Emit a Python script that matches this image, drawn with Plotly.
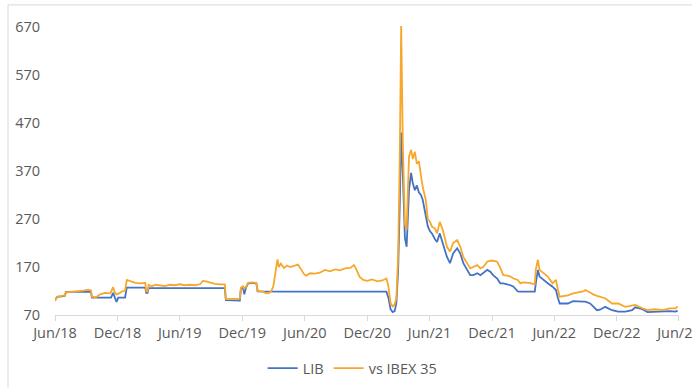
import plotly.graph_objects as go

dates = [
    "2018-06-01", "2018-06-07", "2018-06-21", "2018-06-30", "2018-07-03", "2018-07-20",
    "2018-08-07", "2018-08-24", "2018-09-06", "2018-09-14", "2018-09-17", "2018-09-29",
    "2018-10-11", "2018-10-25", "2018-11-09", "2018-11-12", "2018-11-18", "2018-11-23",
    "2018-11-28", "2018-12-03", "2018-12-14", "2018-12-23", "2018-12-28", "2019-01-07",
    "2019-01-22", "2019-02-06", "2019-02-20", "2019-02-23", "2019-02-27", "2019-03-02",
    "2019-03-11", "2019-03-23", "2019-04-04", "2019-04-18", "2019-05-03", "2019-05-17",
    "2019-06-01", "2019-06-16", "2019-06-30", "2019-07-15", "2019-07-30", "2019-08-08",
    "2019-08-17", "2019-08-29", "2019-09-12", "2019-09-27", "2019-10-11", "2019-10-14",
    "2019-11-01", "2019-11-13", "2019-11-24", "2019-11-27", "2019-12-03", "2019-12-07",
    "2019-12-12", "2019-12-18", "2019-12-30", "2020-01-11", "2020-01-15", "2020-01-29",
    "2020-02-09", "2020-02-18", "2020-02-24", "2020-03-01", "2020-03-06", "2020-03-10",
    "2020-03-13", "2020-03-17", "2020-03-23", "2020-04-01", "2020-04-10", "2020-04-19",
    "2020-04-30", "2020-05-12", "2020-05-21", "2020-05-30", "2020-06-05", "2020-06-17",
    "2020-07-01", "2020-07-15", "2020-07-30", "2020-08-14", "2020-08-28", "2020-09-12",
    "2020-09-27", "2020-10-12", "2020-10-23", "2020-10-30", "2020-11-08", "2020-11-19",
    "2020-12-01", "2020-12-15", "2020-12-30", "2021-01-14", "2021-01-26", "2021-02-01",
    "2021-02-07", "2021-02-13", "2021-02-19", "2021-02-24", "2021-03-01", "2021-03-06",
    "2021-03-10", "2021-03-15", "2021-03-21", "2021-03-26", "2021-04-02", "2021-04-08",
    "2021-04-13", "2021-04-19", "2021-04-25", "2021-05-01", "2021-05-07", "2021-05-12",
    "2021-05-21", "2021-05-27", "2021-06-02", "2021-06-08", "2021-06-17", "2021-06-23",
    "2021-07-01", "2021-07-10", "2021-07-22", "2021-07-31", "2021-08-09", "2021-08-21",
    "2021-08-30", "2021-09-08", "2021-09-19", "2021-09-28", "2021-10-07", "2021-10-19",
    "2021-10-28", "2021-11-05", "2021-11-17", "2021-11-26", "2021-12-04", "2021-12-16",
    "2021-12-25", "2022-01-03", "2022-01-15", "2022-01-24", "2022-02-02", "2022-02-14",
    "2022-02-22", "2022-03-01", "2022-03-21", "2022-04-05", "2022-04-08", "2022-04-14",
    "2022-04-19", "2022-04-30", "2022-05-13", "2022-05-27", "2022-06-06", "2022-06-12",
    "2022-06-17", "2022-07-11", "2022-07-26", "2022-08-25", "2022-08-31", "2022-09-14",
    "2022-09-23", "2022-10-04", "2022-10-13", "2022-10-28", "2022-11-17", "2022-12-05",
    "2022-12-26", "2023-01-15", "2023-01-24", "2023-02-14", "2023-03-01", "2023-03-22",
    "2023-04-14", "2023-05-05", "2023-05-22", "2023-05-28",
]

lib = [
    100, 108, 109, 110, 118, 118,
    118.5, 118.5, 118.5, 118.5, 106, 106,
    106, 106, 106, 106, 116, 106,
    97, 106, 106, 106, 127, 127,
    127, 127, 127, 116, 116, 126,
    126, 126, 126, 126, 126, 126,
    126, 126, 126, 126, 126, 126,
    126, 126, 126, 126, 126, 101,
    100, 100, 100, 125, 128, 113,
    127, 136, 137, 137, 119, 118.6,
    118.6, 118.6, 118.6, 118.6, 118.6, 118.6,
    118.6, 118.6, 118.6, 118.6, 118.6, 118.6,
    118.6, 118.6, 118.6, 118.6, 118.6, 118.6,
    118.6, 118.6, 118.6, 118.6, 118.6, 118.6,
    118.6, 118.6, 118.6, 118.6, 118.6, 118.6,
    118.6, 118.6, 118.6, 118.6, 118.6, 105,
    82, 76, 78, 95, 160, 300,
    450, 360, 230, 212, 330, 366,
    345, 330, 340, 325, 320, 310,
    280, 255, 245, 240, 228, 222,
    240, 219, 191, 178, 198, 209,
    198, 178, 164, 153, 153, 157,
    153, 157, 164, 160, 153, 146,
    136, 136, 134, 132, 129, 119,
    118.6, 118.6, 118.6, 118.6, 136, 164,
    150, 143, 136, 129, 122, 105,
    94, 94, 99, 98, 98, 94,
    87, 80, 81, 87, 80, 77,
    77, 80, 86, 82, 76, 77,
    77, 78, 77, 79,
]

ibex = [
    100, 108, 110, 111, 117, 118,
    120, 121, 123, 121, 108, 107,
    113, 116, 115, 118, 128, 117,
    113, 114, 119, 121, 143, 141,
    137, 136, 137, 120, 119, 133,
    130, 133, 131, 130, 133, 132,
    134, 132, 133, 132, 134, 141,
    140, 137, 135, 134, 134, 103,
    103, 103, 104, 127, 130, 125,
    129, 137, 138, 137, 120, 119,
    115, 116, 120, 130, 155, 180,
    186, 170, 177, 168, 173, 170,
    172, 175, 165, 155, 152, 157,
    156, 158, 164, 161, 165, 163,
    167, 168, 174, 165, 150, 143,
    141, 144, 140, 142, 146, 128,
    95, 88, 92, 105, 190, 400,
    672, 420, 260, 247, 400, 414,
    395, 410, 385, 390, 360, 337,
    310, 270, 265, 254, 250, 240,
    264, 247, 212, 202, 220, 226,
    212, 191, 178, 167, 170, 174,
    167, 170, 181, 183, 183, 181,
    168, 153, 152, 150, 146, 143,
    136, 138, 137, 134, 164, 185,
    164, 157, 150, 136, 143, 122,
    108, 111, 115, 119, 122, 117,
    113, 110, 108, 105, 94, 94,
    87, 89, 91, 84, 80, 82,
    80, 84, 84, 88,
]

tick_vals = ["2018-06-01", "2018-12-01", "2019-06-01", "2019-12-01", "2020-06-01",
             "2020-12-01", "2021-06-01", "2021-12-01", "2022-06-01", "2022-12-01",
             "2023-06-01"]
tick_text = ["Jun/18", "Dec/18", "Jun/19", "Dec/19", "Jun/20", "Dec/20",
             "Jun/21", "Dec/21", "Jun/22", "Dec/22", "Jun/23"]
y_ticks = [70, 170, 270, 370, 470, 570, 670]

fig = go.Figure()
fig.add_trace(go.Scatter(x=dates, y=lib, mode="lines", name="LIB",
                         line=dict(color="#4472C4", width=1.8)))
fig.add_trace(go.Scatter(x=dates, y=ibex, mode="lines", name="vs IBEX 35",
                         line=dict(color="#F7A72A", width=1.8)))

fig.update_layout(
    width=692, height=388,
    margin=dict(l=55, r=13, t=26, b=73, autoexpand=False),
    paper_bgcolor="white", plot_bgcolor="white",
    font=dict(family="Open Sans", size=14.5, color="#595959"),
    showlegend=True,
    legend=dict(orientation="h", x=0.477, xanchor="center", y=-0.184, yanchor="middle",
                font=dict(size=14.5, color="#595959"), itemwidth=30, tracegroupgap=0),
    xaxis=dict(type="date", range=["2018-06-01", "2023-06-01 02:00"], tickvals=tick_vals,
               ticktext=tick_text, showgrid=False, zeroline=False, showline=True,
               linecolor="#d9d9d9", linewidth=1, ticks="outside", ticklen=5,
               tickcolor="#d9d9d9", tickangle=0, ticklabeloverflow="allow"),
    yaxis=dict(range=[70, 672], tickvals=y_ticks, showgrid=False, zeroline=False,
               showline=False, ticks="", ticklabelstandoff=14),
    shapes=[
        dict(type="line", xref="paper", yref="paper", x0=-0.0753, x1=-0.0753,
             y0=-0.4, y1=1.0729, line=dict(color="#d9d9d9", width=1)),
        dict(type="line", xref="paper", yref="paper", x0=-0.0753, x1=1.1,
             y0=1.0729, y1=1.0729, line=dict(color="#d9d9d9", width=1)),
    ],
)

fig.write_html("out.html", config={"displayModeBar": False},
               post_script="document.body.style.margin='0';document.body.style.overflow='hidden';")
